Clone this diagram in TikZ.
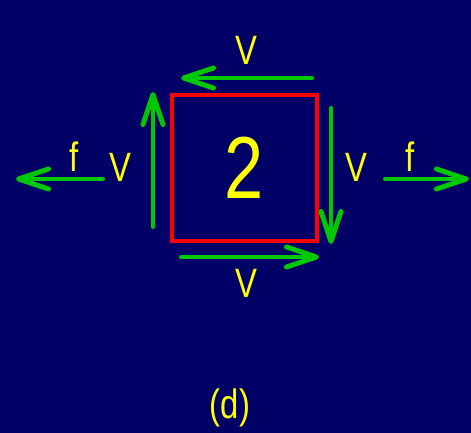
\documentclass[tikz,border=0pt]{standalone}
\usepackage{fontspec}
\setmainfont{Liberation Sans}[FakeStretch=0.8]
\usetikzlibrary{arrows.meta}
\definecolor{navy}{RGB}{0,0,102}
\definecolor{arrgreen}{RGB}{0,200,0}
\definecolor{txtyellow}{RGB}{255,255,0}
\tikzset{
    flow/.style={arrgreen, line width=4pt, line cap=round, -{Straight Barb[length=30pt, width=20pt, line width=5pt, round]}},
    lbl/.style={text=txtyellow, font=\fontsize{41}{41}\selectfont, inner sep=0pt}
}
\begin{document}
\begin{tikzpicture}[x=1pt, y=-1pt]
    % Background
    \fill[navy] (0,0) rectangle (471,433);
    \useasboundingbox (0,0) rectangle (471,433);

    % Element
    \node[draw=red, line width=4pt, minimum size=145pt, inner sep=0pt,
          text=txtyellow, font=\fontsize{88}{88}\selectfont] (elem) at (244.5,168) {\raisebox{-4pt}{2}};

    % Velocity arrows round the element
    \coordinate (topA) at (312,78);   \coordinate (topB) at (181,78);
    \coordinate (rgtA) at (331,108);  \coordinate (rgtB) at (331,244);
    \coordinate (botA) at (181,257);  \coordinate (botB) at (319,257);
    \coordinate (lftA) at (153,227);  \coordinate (lftB) at (153,92);
    \draw[flow] (topA) -- (topB);
    \draw[flow] (rgtA) -- (rgtB);
    \draw[flow] (botA) -- (botB);
    \draw[flow] (lftA) -- (lftB);

    % Force arrows
    \coordinate (fLA) at (103,179);  \coordinate (fLB) at (16,179);
    \coordinate (fRA) at (385,179);  \coordinate (fRB) at (469,179);
    \draw[flow] (fLA) -- (fLB);
    \draw[flow] (fRA) -- (fRB);

    % Labels
    \node[lbl] (vTop) at (246,50) {V};
    \node[lbl] (vRgt) at (356,167) {V};
    \node[lbl] (vBot) at (246,283) {V};
    \node[lbl] (vLft) at (120,167) {V};
    \node[lbl] (fL) at (74,157) {f};
    \node[lbl] (fR) at (410,157) {f};
    \node[lbl] (cap) at (230,408) {(d)};
\end{tikzpicture}
\end{document}
